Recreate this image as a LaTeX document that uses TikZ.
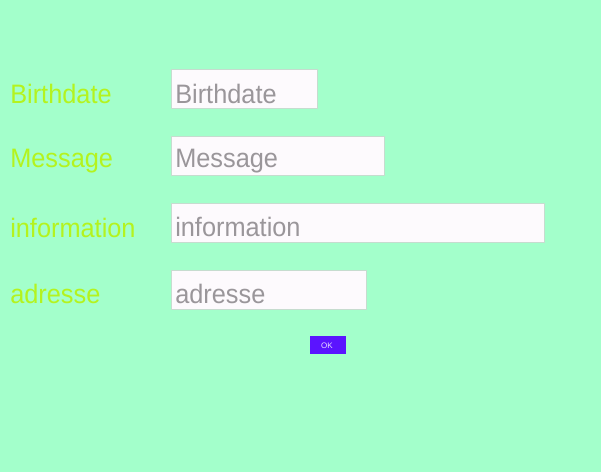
\documentclass[tikz,border=0pt]{standalone}
\usepackage{fontspec}
\setmainfont{Liberation Sans}
\definecolor{bg}{HTML}{A3FFCB}
\definecolor{lbl}{HTML}{B4F31E}
\definecolor{fieldfill}{HTML}{FDFAFD}
\definecolor{fieldline}{HTML}{C6DCCF}
\definecolor{ph}{HTML}{9A969A}
\definecolor{btn}{HTML}{5B14FF}
\definecolor{btntext}{HTML}{E6DCFF}
\newcommand{\cond}[1]{\scalebox{0.95}[1]{#1}}
\begin{document}
\begin{tikzpicture}[x=0.75pt,y=-0.75pt,
  lab/.style={anchor=base west,inner sep=0pt,text=lbl,font=\fontsize{20pt}{24pt}\selectfont},
  phtext/.style={anchor=base west,inner sep=0pt,text=ph,font=\fontsize{20pt}{24pt}\selectfont},
  field/.style={draw=fieldline,fill=fieldfill,line width=0.75pt}]
\fill[bg] (0,0) rectangle (601,472);
\useasboundingbox (0,0) rectangle (601,472);
% fields
\draw[field] (171.5,69.5) rectangle (317.5,108.5);
\draw[field] (171.5,136.5) rectangle (384.5,175.5);
\draw[field] (171.5,203.5) rectangle (544.5,242.5);
\draw[field] (171.5,270.5) rectangle (366.5,309.5);
% labels
\node[lab] (l1) at (10,103) {\cond{Birthdate}};
\node[lab] (l2) at (10,167.5) {\cond{Message}};
\node[lab] (l3) at (10,237) {\cond{information}};
\node[lab] (l4) at (10,303) {\cond{adresse}};
% placeholders
\node[phtext] (p1) at (175,103) {\cond{Birthdate}};
\node[phtext] (p2) at (175,167.5) {\cond{Message}};
\node[phtext] (p3) at (175,236.5) {\cond{information}};
\node[phtext] (p4) at (175,303) {\cond{adresse}};
% button
\fill[btn] (310,336) rectangle (346,354);
\node[text=btntext,inner sep=0pt,font=\fontsize{6pt}{7pt}\selectfont] (ok) at (327,345.5) {OK};
\end{tikzpicture}
\end{document}
